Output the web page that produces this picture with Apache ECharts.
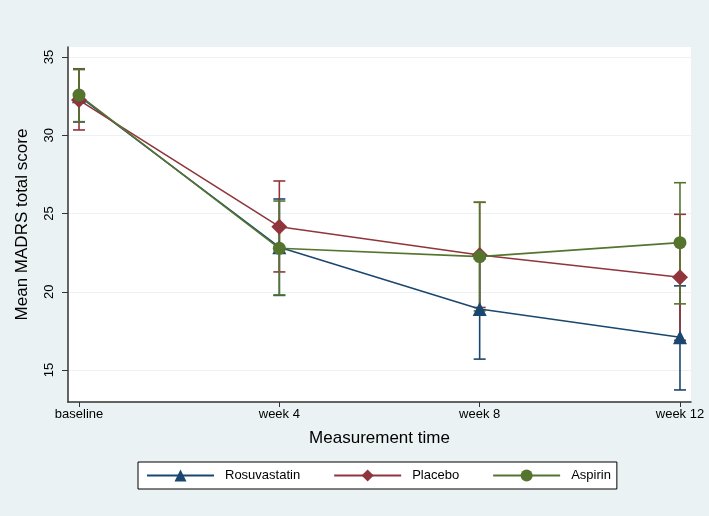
<!DOCTYPE html>
<html>
<head>
<meta charset="utf-8">
<script src="https://cdn.jsdelivr.net/npm/echarts@6/dist/echarts.min.js"></script>
<style>
  html, body { margin: 0; padding: 0; background: #eaf2f3; }
  #chart { width: 709px; height: 516px; }
</style>
</head>
<body>
<div id="chart"></div>
<script>
// x positions (weeks) and their labels
const weeks = [0, 4, 8, 12]
const weekLabels = ['baseline', 'week 4', 'week 8', 'week 12']
const yTicks = [15, 20, 25, 30, 35]

// means
const rosuMean = [32.5, 22.85, 18.9, 17.1]
const placMean = [32.25, 24.16, 22.35, 20.93]
const aspMean = [32.57, 22.78, 22.25, 23.14]

// 95% CI low / high
const rosuLow = [30.85, 19.77, 15.7, 13.73]
const rosuHigh = [34.25, 25.93, 22.1, 20.38]
const placLow = [30.34, 21.27, 19.0, 16.9]
const placHigh = [34.2, 27.08, 25.72, 24.95]
const aspLow = [30.87, 19.8, 18.78, 19.23]
const aspHigh = [34.23, 25.8, 25.72, 26.97]

const colors = { rosu: '#1a476f', plac: '#90353b', asp: '#55752f' }
const font = 'Liberation Sans'

const myChart = echarts.init(document.getElementById('chart'))

// error bars with caps, drawn by a custom series
const capSeries = (name, low, high, color) => ({
  type: 'custom',
  name: name + ' CI',
  z: 1,
  silent: true,
  data: weeks.map((w, i) => [w, low[i], high[i]]),
  renderItem: (params, api) => {
    const lo = api.coord([api.value(0), api.value(1)])
    const hi = api.coord([api.value(0), api.value(2)])
    const half = 6
    const style = { stroke: color, lineWidth: 1.6 }
    return {
      type: 'group',
      children: [
        { type: 'line', shape: { x1: lo[0], y1: lo[1], x2: hi[0], y2: hi[1] }, style },
        { type: 'line', shape: { x1: lo[0] - half, y1: lo[1], x2: lo[0] + half, y2: lo[1] }, style },
        { type: 'line', shape: { x1: hi[0] - half, y1: hi[1], x2: hi[0] + half, y2: hi[1] }, style },
      ],
    }
  },
})

const lineSeries = (name, mean, color, symbol, size) => ({
  type: 'line',
  name,
  z: 3,
  data: weeks.map((w, i) => [w, mean[i]]),
  symbol,
  symbolSize: size,
  showAllSymbol: true,
  itemStyle: { color },
  lineStyle: { color, width: 1.6 },
})

myChart.setOption({
  backgroundColor: '#eaf2f3',
  animation: false,
  grid: {
    left: 68, right: 18, top: 47, bottom: 114,
    show: true, backgroundColor: '#ffffff', borderWidth: 0,
  },
  xAxis: {
    type: 'value',
    min: -0.22,
    max: 12.22,
    name: 'Measurement time',
    nameLocation: 'middle',
    nameGap: 28,
    nameTextStyle: { fontFamily: font, fontSize: 17, color: '#000' },
    axisLine: { show: true, onZero: false, lineStyle: { color: '#333', width: 1.5 } },
    axisTick: { show: true, length: 5, customValues: weeks, lineStyle: { color: '#333' } },
    axisLabel: {
      customValues: weeks,
      fontFamily: font, fontSize: 13, color: '#000', margin: 6,
      formatter: v => weekLabels[weeks.indexOf(v)],
    },
    splitLine: { show: false },
  },
  yAxis: {
    type: 'value',
    min: 12.96,
    max: 35.64,
    name: 'Mean MADRS total score',
    nameLocation: 'middle',
    nameGap: 37,
    nameTextStyle: { fontFamily: font, fontSize: 17, color: '#000' },
    axisLine: { show: true, onZero: false, lineStyle: { color: '#333', width: 1.5 } },
    axisTick: { show: true, length: 6, customValues: yTicks, lineStyle: { color: '#333' } },
    axisLabel: {
      customValues: yTicks,
      rotate: 90,
      fontFamily: font, fontSize: 13, color: '#000', margin: 12,
    },
    splitLine: { show: true, lineStyle: { color: '#eaf2f3', width: 1.2 } },
  },
  legend: {
    left: 138,
    top: 462,
    padding: [7, 6, 7, 8],
    backgroundColor: '#ffffff',
    borderColor: '#000',
    borderWidth: 1,
    borderRadius: 0,
    itemWidth: 67,
    itemHeight: 15,
    itemGap: 33,
    data: ['Rosuvastatin', 'Placebo', 'Aspirin'],
    textStyle: { fontFamily: font, fontSize: 13, color: '#000', padding: [0, 0, 0, 6] },
  },
  series: [
    capSeries('Rosuvastatin', rosuLow, rosuHigh, colors.rosu),
    capSeries('Placebo', placLow, placHigh, colors.plac),
    capSeries('Aspirin', aspLow, aspHigh, colors.asp),
    lineSeries('Rosuvastatin', rosuMean, colors.rosu, 'triangle', 14),
    lineSeries('Placebo', placMean, colors.plac, 'diamond', 16),
    lineSeries('Aspirin', aspMean, colors.asp, 'circle', 13),
  ],
})
</script>
</body>
</html>
